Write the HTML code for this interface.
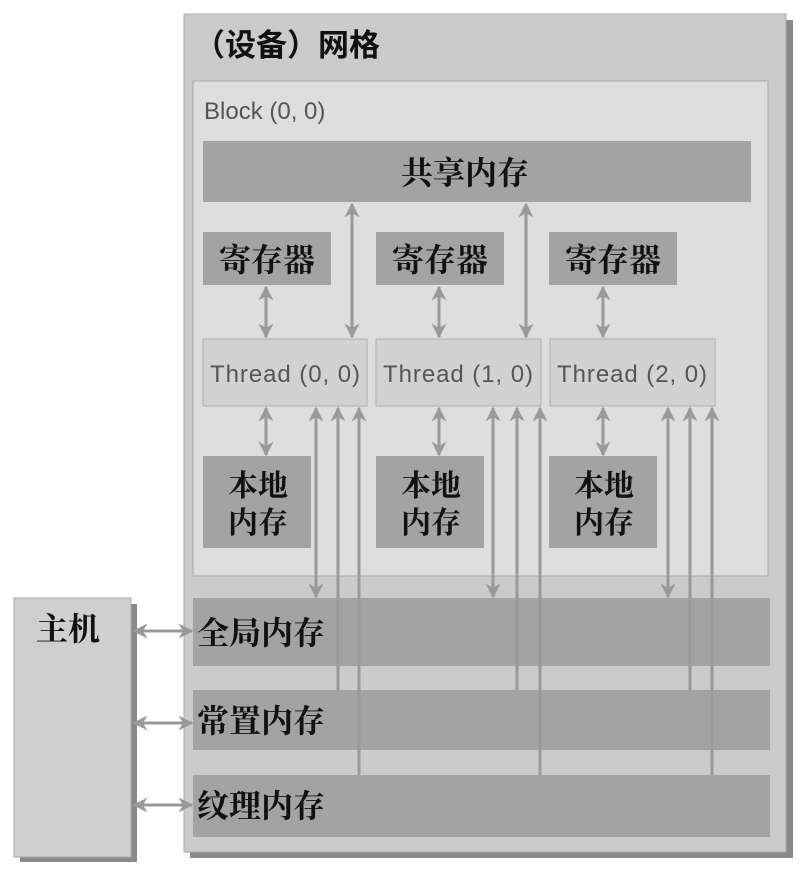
<!DOCTYPE html>
<html><head><meta charset="utf-8"><style>
body{margin:0;background:#fff;width:809px;height:866px;overflow:hidden}
text{font-family:"Liberation Serif","Noto Serif CJK SC",serif;fill:#111;font-weight:bold}
.s{font-family:"Liberation Sans","Noto Sans CJK SC",sans-serif;fill:#555;font-weight:normal}
</style></head><body>
<svg width="809" height="866" viewBox="0 0 809 866">
<defs>
<marker id="a" viewBox="0 0 10 10" refX="9" refY="5" markerWidth="5" markerHeight="5" orient="auto-start-reverse"><path d="M0,0L10,5L0,10L3,5z" fill="#999"/></marker>
</defs>
<rect x="190" y="20" width="603" height="838" fill="#8a8a8a"/>
<rect x="184" y="14" width="602" height="838" fill="#cbcbcb" stroke="#aaa"/>
<text x="194" y="56" font-size="31" font-family="Noto Sans CJK SC,sans-serif" style="font-family:'Noto Sans CJK SC',sans-serif">（设备）网格</text>
<rect x="193" y="81" width="575" height="495" fill="#dedede" stroke="#aaa"/>
<text class="s" x="204" y="119" font-size="24">Block (0, 0)</text>
<rect x="203" y="141" width="548" height="61" fill="#a3a3a3"/>
<text x="465" y="184" font-size="32" text-anchor="middle">共享内存</text>
<g fill="#a3a3a3">
<rect x="203" y="232" width="128" height="53"/><rect x="376" y="232" width="128" height="53"/><rect x="549" y="232" width="128" height="53"/>
<rect x="203" y="456" width="108" height="92"/><rect x="376" y="456" width="108" height="92"/><rect x="549" y="456" width="108" height="92"/>
</g>
<g font-size="32" text-anchor="middle">
<text x="267" y="271">寄存器</text><text x="440" y="271">寄存器</text><text x="613" y="271">寄存器</text>
<text x="258" y="496" font-size="30">本地</text><text x="258" y="533" font-size="30">内存</text>
<text x="431" y="496" font-size="30">本地</text><text x="431" y="533" font-size="30">内存</text>
<text x="604" y="496" font-size="30">本地</text><text x="604" y="533" font-size="30">内存</text>
</g>
<g fill="#d2d2d2" stroke="#b0b0b0">
<rect x="203" y="339" width="164" height="67"/><rect x="376" y="339" width="165" height="67"/><rect x="550" y="339" width="165" height="67"/>
</g>
<g text-anchor="middle">
<text class="s" x="285" y="382" font-size="24" textLength="150">Thread (0, 0)</text><text class="s" x="458" y="382" font-size="24" textLength="150">Thread (1, 0)</text><text class="s" x="632" y="382" font-size="24" textLength="150">Thread (2, 0)</text>
</g>
<g fill="#a3a3a3">
<rect x="193" y="598" width="577" height="68"/><rect x="193" y="690" width="577" height="60"/><rect x="193" y="775" width="577" height="62"/>
</g>
<g font-size="32">
<text x="197" y="644">全局内存</text><text x="197" y="732">常置内存</text><text x="197" y="817">纹理内存</text>
</g>
<rect x="20" y="604" width="117" height="258" fill="#8a8a8a"/>
<rect x="14" y="598" width="117" height="259" fill="#cfcfcf" stroke="#aaa"/>
<text x="36" y="640" font-size="32">主机</text>
<g stroke="#999" stroke-width="3" fill="none">
<line x1="134" y1="631" x2="192" y2="631" marker-start="url(#a)" marker-end="url(#a)"/>
<line x1="134" y1="723" x2="192" y2="723" marker-start="url(#a)" marker-end="url(#a)"/>
<line x1="134" y1="805" x2="192" y2="805" marker-start="url(#a)" marker-end="url(#a)"/>
<line x1="352" y1="204" x2="352" y2="337" marker-start="url(#a)" marker-end="url(#a)"/>
<line x1="526" y1="204" x2="526" y2="337" marker-start="url(#a)" marker-end="url(#a)"/>
<line x1="266" y1="287" x2="266" y2="337" marker-start="url(#a)" marker-end="url(#a)"/>
<line x1="439" y1="287" x2="439" y2="337" marker-start="url(#a)" marker-end="url(#a)"/>
<line x1="603" y1="287" x2="603" y2="337" marker-start="url(#a)" marker-end="url(#a)"/>
<line x1="266" y1="408" x2="266" y2="455" marker-start="url(#a)" marker-end="url(#a)"/>
<line x1="439" y1="408" x2="439" y2="455" marker-start="url(#a)" marker-end="url(#a)"/>
<line x1="603" y1="408" x2="603" y2="455" marker-start="url(#a)" marker-end="url(#a)"/>
<line x1="316" y1="408" x2="316" y2="597" marker-start="url(#a)" marker-end="url(#a)"/>
<line x1="493" y1="408" x2="493" y2="597" marker-start="url(#a)" marker-end="url(#a)"/>
<line x1="668" y1="408" x2="668" y2="597" marker-start="url(#a)" marker-end="url(#a)"/>
<line x1="338" y1="408" x2="338" y2="690" marker-start="url(#a)"/>
<line x1="517" y1="408" x2="517" y2="690" marker-start="url(#a)"/>
<line x1="690" y1="408" x2="690" y2="690" marker-start="url(#a)"/>
<line x1="359" y1="408" x2="359" y2="775" marker-start="url(#a)"/>
<line x1="540" y1="408" x2="540" y2="775" marker-start="url(#a)"/>
<line x1="712" y1="408" x2="712" y2="775" marker-start="url(#a)"/>
</g>
</svg>
</body></html>
